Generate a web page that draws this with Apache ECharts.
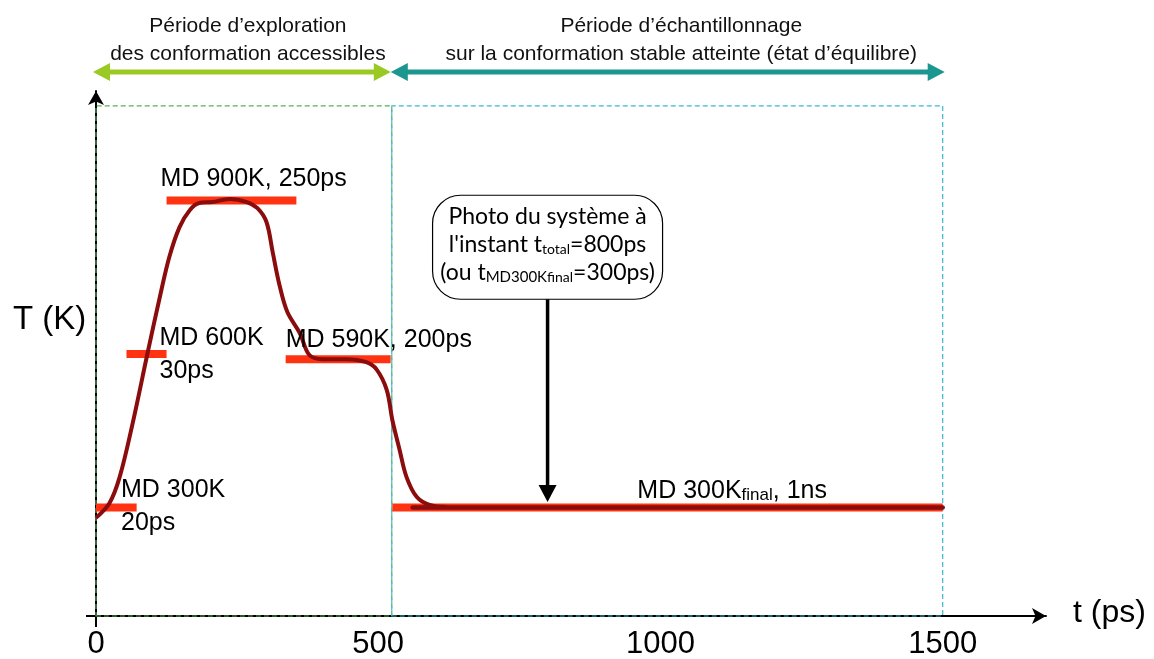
<!DOCTYPE html>
<html>
<head>
<meta charset="utf-8">
<script src="https://cdn.jsdelivr.net/npm/echarts@6/dist/echarts.min.js"></script>
<style>
  html, body { margin: 0; padding: 0; background: #ffffff; }
  #chart { width: 1154px; height: 659px; }
</style>
</head>
<body>
<div id="chart"></div>
<script>
// Simulated-annealing MD protocol: each temperature stage and its time span (ps)
const stageTemps = [300, 600, 900, 590, 300];
const stageStart = [0, 54, 125, 336, 525];
const stageEnd = [72, 125, 355, 522, 1500];
const stageLabels = [
  'MD 300K\n20ps',
  'MD 600K\n30ps',
  'MD 900K, 250ps',
  'MD 590K, 200ps',
  '{m|MD 300K}{s|final}{m|, 1ns}'
];

// Smoothed temperature actually followed by the system (t in ps, T in K)
const curveTime = [0, 24, 42, 65, 91, 113, 130, 148, 166, 183, 206, 237, 267, 286, 302, 313, 325, 339, 361, 378, 401, 444, 479, 497, 515, 525, 538, 550, 568, 591, 621];
const curveTemp = [280, 309, 360, 465, 600, 711, 790, 848, 881, 895, 897, 903, 897, 885, 858, 799, 735, 682, 641, 598, 590, 590, 584, 570, 530, 471, 412, 360, 321, 305, 301];
const plateauTime = [561, 1500];
const plateauTemp = [300, 300];

// Exploration / sampling periods
const phaseBounds = [0, 524, 1500];
const phaseTitles = [
  'Période d\u2019exploration\ndes conformation accessibles',
  'Période d\u2019échantillonnage\nsur la conformation stable atteinte (état d\u2019équilibre)'
];
const frameTop = 1085;

// Snapshot taken during the final 300 K run
const snapshotTime = 800;
const snapshotTemps = [707, 311];
const snapshotText = '{n|Photo du système à}\n{n|l\'instant t}{sub|total}{n|=800ps}\n{n|(ou t}{sc|MD300K}{sub|final}{n|=300ps)}';

// Axes
const xTicks = [0, 500, 1000, 1500];
const xRange = [0, 1683];
const yRange = [88, 1114];

const RED = '#ff3311';
const DARK = '#8b0c0c';
const GREEN = '#9bc924';
const TEAL = '#1b9790';
const FONT = 'Liberation Sans, Arial, sans-serif';

const chart = echarts.init(document.getElementById('chart'), null, { renderer: 'canvas' });

const stageSeries = stageTemps.map((T, i) => ({
  type: 'line',
  name: 'stage' + i,
  data: [[stageStart[i], T], [stageEnd[i], T]],
  symbol: 'none',
  silent: true,
  z: 2,
  lineStyle: { color: RED, width: 8, cap: 'butt' }
}));

stageSeries[stageSeries.length - 1].markArea = {
  silent: true,
  label: { show: false },
  data: [
    [
      { xAxis: phaseBounds[0], yAxis: yRange[0], itemStyle: { color: 'rgba(0,0,0,0)', borderColor: '#55b055', borderWidth: 1.2, borderType: [5, 3] } },
      { xAxis: phaseBounds[1], yAxis: frameTop }
    ],
    [
      { xAxis: phaseBounds[1], yAxis: yRange[0], itemStyle: { color: 'rgba(0,0,0,0)', borderColor: '#3db5d5', borderWidth: 1.2, borderType: [5, 3] } },
      { xAxis: phaseBounds[2], yAxis: frameTop }
    ]
  ]
};

const option = {
  animation: false,
  backgroundColor: '#ffffff',
  grid: { left: 96, right: 108, top: 91, bottom: 43, containLabel: false, outerBoundsMode: 'none' },
  xAxis: {
    type: 'value',
    min: xRange[0],
    max: xRange[1],
    interval: 500,
    axisLine: { show: true, onZero: false, symbol: ['none', 'arrow'], symbolSize: [12, 14], lineStyle: { color: '#000', width: 2 } },
    axisTick: { show: true, customValues: [0], length: 11, lineStyle: { color: '#000', width: 2 } },
    axisLabel: { customValues: xTicks, formatter: v => String(v), fontSize: 31, fontFamily: FONT, color: '#000', margin: 13 },
    splitLine: { show: false }
  },
  yAxis: {
    type: 'value',
    min: yRange[0],
    max: yRange[1],
    axisLine: { show: true, onZero: false, symbol: ['none', 'arrow'], symbolSize: [12, 14], lineStyle: { color: '#000', width: 2 } },
    axisTick: { show: true, customValues: [yRange[0]], length: 10, lineStyle: { color: '#000', width: 2 } },
    axisLabel: { show: false },
    splitLine: { show: false }
  },
  series: stageSeries.concat([
    {
      type: 'line',
      name: 'temperature',
      data: curveTime.map((t, i) => [t, curveTemp[i]]),
      smooth: 0.35,
      symbol: 'none',
      silent: true,
      z: 3,
      lineStyle: { color: DARK, width: 4 }
    },
    {
      type: 'line',
      name: 'plateau',
      data: plateauTime.map((t, i) => [t, plateauTemp[i]]),
      symbol: 'none',
      silent: true,
      z: 3,
      lineStyle: { color: DARK, width: 4.5, cap: 'round' }
    }
  ])
};

chart.setOption(option);

const px = (t, T) => chart.convertToPixel({ xAxisIndex: 0, yAxisIndex: 0 }, [t, T]);

// text placed by the baseline of its first line
function textAt(text, x, baseline, size, lineHeight, extra) {
  const mid = baseline - 0.3465 * size;
  return {
    type: 'text',
    x: x,
    y: mid - lineHeight / 2,
    silent: true,
    z: 20,
    style: Object.assign({
      text: text,
      fill: '#000',
      fontSize: size,
      fontFamily: FONT,
      lineHeight: lineHeight,
      align: 'left',
      verticalAlign: 'top'
    }, extra || {})
  };
}

const graphics = [];

// stage labels, anchored to the start of each bar
const labelShift = [[25, -8.5], [33, -7], [-6, -13], [0, -10], [245, -10.5]];
stageTemps.forEach((T, i) => {
  const p = px(stageStart[i], T);
  const extra = i === 4 ? {
    rich: {
      m: { fontSize: 25, fontFamily: FONT, fill: '#000', lineHeight: 30, verticalAlign: 'bottom' },
      s: { fontSize: 17, fontFamily: FONT, fill: '#000', lineHeight: 16, verticalAlign: 'bottom' }
    }
  } : null;
  graphics.push(textAt(stageLabels[i], p[0] + labelShift[i][0], p[1] + labelShift[i][1], 25, i === 4 ? 30 : 33, extra));
});

// period arrows on top
function doubleArrow(x0, x1, y, color) {
  const hl = 17, hw = 9, sw = 5;
  return [
    { type: 'rect', silent: true, z: 10, shape: { x: x0 + hl - 1, y: y - sw / 2, width: x1 - x0 - 2 * hl + 2, height: sw }, style: { fill: color } },
    { type: 'polygon', silent: true, z: 10, shape: { points: [[x0, y], [x0 + hl, y - hw], [x0 + hl, y + hw]] }, style: { fill: color } },
    { type: 'polygon', silent: true, z: 10, shape: { points: [[x1, y], [x1 - hl, y - hw], [x1 - hl, y + hw]] }, style: { fill: color } }
  ];
}
const bx = phaseBounds.map(t => px(t, yRange[0])[0]);
const arrowY = 72;
graphics.push(...doubleArrow(bx[0] - 3, bx[1] - 1, arrowY, GREEN));
graphics.push(...doubleArrow(bx[1] - 1, bx[2] + 2, arrowY, TEAL));
const titleShift = [4, 14];
phaseTitles.forEach((txt, i) => {
  const cx = (bx[i] + bx[i + 1]) / 2 + titleShift[i];
  graphics.push(textAt(txt, cx, 33, 21, 28, { align: 'center', fill: '#111' }));
});

// axis titles
graphics.push(textAt('T (K)', 13, 331, 33, 36));
graphics.push(textAt('t (ps)', px(xRange[1], yRange[0])[0] + 27, 624, 32, 36));

// snapshot callout with its arrow
const aTop = px(snapshotTime, snapshotTemps[0]);
const aTip = px(snapshotTime, snapshotTemps[1]);
const boxW = 230, boxH = 104;
graphics.push({
  type: 'rect', silent: true, z: 12,
  shape: { x: aTop[0] - boxW / 2, y: aTop[1] - boxH, width: boxW, height: boxH, r: 28 },
  style: { fill: '#fff', stroke: '#000', lineWidth: 1.2 }
});
graphics.push({
  type: 'text', silent: true, z: 13,
  x: aTop[0], y: aTop[1] - boxH + 5,
  style: {
    text: snapshotText,
    align: 'center',
    verticalAlign: 'top',
    rich: {
      n: { fontSize: 23, fontFamily: 'Lato', fill: '#000', lineHeight: 28, verticalAlign: 'bottom' },
      sc: { fontSize: 15, fontFamily: 'Lato', fill: '#000', lineHeight: 21, verticalAlign: 'bottom' },
      sub: { fontSize: 14, fontFamily: 'Lato', fill: '#000', lineHeight: 14, verticalAlign: 'bottom' }
    }
  }
});
graphics.push({
  type: 'line', silent: true, z: 12,
  shape: { x1: aTop[0], y1: aTop[1], x2: aTip[0], y2: aTip[1] - 15 },
  style: { stroke: '#000', lineWidth: 3.5 }
});
graphics.push({
  type: 'polygon', silent: true, z: 12,
  shape: { points: [[aTip[0], aTip[1]], [aTip[0] - 9, aTip[1] - 17], [aTip[0] + 9, aTip[1] - 17]] },
  style: { fill: '#000' }
});

chart.setOption({ graphic: graphics });
</script>
</body>
</html>
